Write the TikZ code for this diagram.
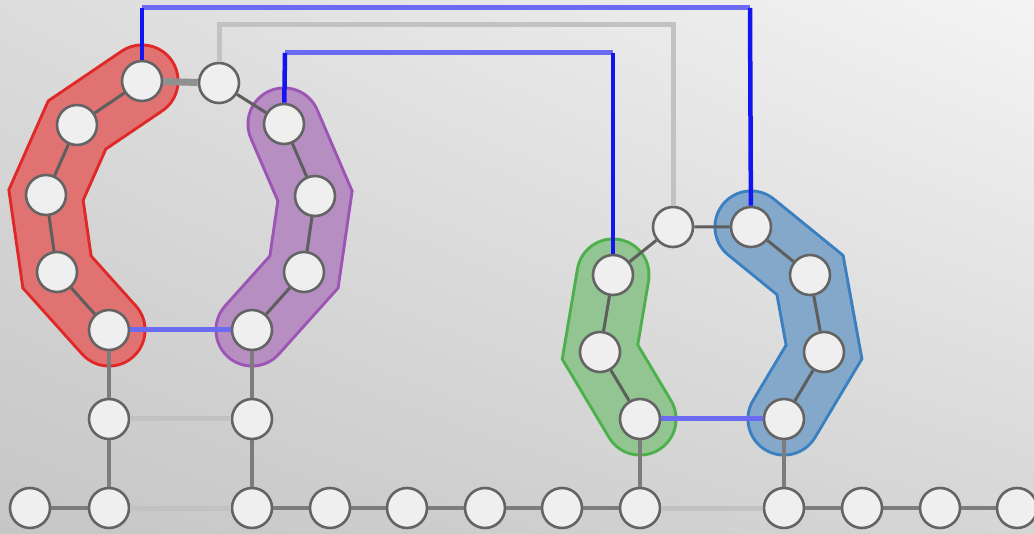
\documentclass[tikz,border=0pt]{standalone}
\usetikzlibrary{backgrounds,shadings}
\definecolor{nodefill}{HTML}{EFEFEF}
\definecolor{nodeline}{HTML}{646464}
\definecolor{ringedge}{HTML}{5E5E5E}
\definecolor{treeedge}{HTML}{7C7C7C}
\definecolor{faintedge}{HTML}{C2C2C2}
\definecolor{linkv}{HTML}{1414F0}
\definecolor{linkh}{HTML}{6A6AF2}
\definecolor{redrim}{HTML}{E02828}
\definecolor{redcore}{HTML}{E07272}
\definecolor{purrim}{HTML}{9C55B4}
\definecolor{purcore}{HTML}{B68EC2}
\definecolor{grnrim}{HTML}{4CB04C}
\definecolor{grncore}{HTML}{92C592}
\definecolor{blurim}{HTML}{3A80C0}
\definecolor{blucore}{HTML}{84A8CA}
\definecolor{bgul}{HTML}{DCDCDC}
\definecolor{bgur}{HTML}{F4F4F4}
\definecolor{bgll}{HTML}{C6C6C6}
\definecolor{bglr}{HTML}{D6D6D6}
\pgfdeclarelayer{back}
\pgfdeclarelayer{blobs}
\pgfsetlayers{back,blobs,main}
\tikzset{
  vertex/.style={circle, draw=nodeline, fill=nodefill, line width=2.6pt,
    minimum size=40pt, inner sep=0pt},
  ring/.style={draw=ringedge, line width=3pt},
  thickring/.style={draw=treeedge!85!white, line width=7pt},
  tree/.style={draw=treeedge, line width=4pt},
  faint/.style={draw=faintedge, line width=5pt},
  linkvert/.style={draw=linkv, line width=4.5pt},
  linkhor/.style={draw=linkh, line width=5pt},
  blobrim/.style={draw=#1, line width=75pt, line join=miter, line cap=round},
  blobcore/.style={draw=#1, line width=69pt, line join=miter, line cap=round},
}
\begin{document}
\begin{tikzpicture}[x=1pt,y=-1pt]
\useasboundingbox (0,0) rectangle (1034,534);
\begin{pgfonlayer}{back}
  \shade[upper left=bgul, upper right=bgur, lower left=bgll, lower right=bglr]
    (0,0) rectangle (1034,534);
\end{pgfonlayer}

% left ring
\node[vertex] (R1) at (142,81) {};
\node[vertex] (R2) at (77,125) {};
\node[vertex] (R3) at (46,195) {};
\node[vertex] (R4) at (57,272) {};
\node[vertex] (R5) at (109,330) {};
\node[vertex] (T1) at (219,83) {};
\node[vertex] (P1) at (284,124) {};
\node[vertex] (P2) at (315,196) {};
\node[vertex] (P3) at (304,272) {};
\node[vertex] (P4) at (252,330) {};
\node[vertex] (L1) at (109,419) {};
\node[vertex] (L2) at (252,419) {};

% right ring
\node[vertex] (T2) at (673,227) {};
\node[vertex] (B1) at (751,227) {};
\node[vertex] (B2) at (810,275) {};
\node[vertex] (B3) at (824,352) {};
\node[vertex] (B4) at (784,419) {};
\node[vertex] (G1) at (613,275) {};
\node[vertex] (G2) at (600,352) {};
\node[vertex] (G3) at (640,419) {};

% bottom row
\foreach \name/\x in {b1/30,b2/109,b3/252,b4/330,b5/407,b6/485,b7/562,b8/640,b9/784,b10/862,b11/940,b12/1017}
  \node[vertex] (\name) at (\x,508) {};
\coordinate (tail) at (1040,508);

% highlighted groups
\begin{pgfonlayer}{blobs}
  \draw[blobrim=redrim] (R1.center) -- (R2.center) -- (R3.center) -- (R4.center) -- (R5.center);
  \draw[blobcore=redcore] (R1.center) -- (R2.center) -- (R3.center) -- (R4.center) -- (R5.center);
  \draw[blobrim=purrim] (P1.center) -- (P2.center) -- (P3.center) -- (P4.center);
  \draw[blobcore=purcore] (P1.center) -- (P2.center) -- (P3.center) -- (P4.center);
  \draw[blobrim=grnrim] (G1.center) -- (G2.center) -- (G3.center);
  \draw[blobcore=grncore] (G1.center) -- (G2.center) -- (G3.center);
  \draw[blobrim=blurim] (B1.center) -- (B2.center) -- (B3.center) -- (B4.center);
  \draw[blobcore=blucore] (B1.center) -- (B2.center) -- (B3.center) -- (B4.center);
\end{pgfonlayer}

% faint links
\coordinate (g1) at (219,25);
\coordinate (g2) at (673,25);
\draw[faint] (T1) -- (g1) -- (g2) -- (T2);
\draw[faint] (L1) -- (L2);
\draw[faint] (b2) -- (b3);
\draw[faint] (b8) -- (b9);

% ring edges
\draw[thickring] (R1) -- (T1);
\draw[ring] (T1) -- (P1);
\draw[ring] (P1) -- (P2) (P2) -- (P3) (P3) -- (P4);
\draw[ring] (R1) -- (R2) (R2) -- (R3) (R3) -- (R4) (R4) -- (R5);
\draw[ring] (G1) -- (T2) (T2) -- (B1);
\draw[ring] (B1) -- (B2) (B2) -- (B3) (B3) -- (B4);
\draw[ring] (G1) -- (G2) (G2) -- (G3);

% tree edges
\draw[tree] (R5) -- (L1) (L1) -- (b2);
\draw[tree] (P4) -- (L2) (L2) -- (b3);
\draw[tree] (G3) -- (b8);
\draw[tree] (B4) -- (b9);
\draw[tree] (b1) -- (b2);
\draw[tree] (b3) -- (b4) (b4) -- (b5) (b5) -- (b6) (b6) -- (b7) (b7) -- (b8);
\draw[tree] (b9) -- (b10) (b10) -- (b11) (b11) -- (b12) (b12) -- (tail);

% blue links
\coordinate (u1) at (142,8);
\coordinate (u2) at (750,8);
\coordinate (v1) at (285,53);
\coordinate (v2) at (613,53);
\draw[linkhor] (u1) -- (u2);
\draw[linkvert] (R1) -- (u1);
\draw[linkvert] (u2) -- (B1);
\draw[linkhor] (v1) -- (v2);
\draw[linkvert] (P1) -- (v1);
\draw[linkvert] (v2) -- (G1);
\draw[linkhor] (R5) -- (P4);
\draw[linkhor] (G3) -- (B4);
\end{tikzpicture}
\end{document}
